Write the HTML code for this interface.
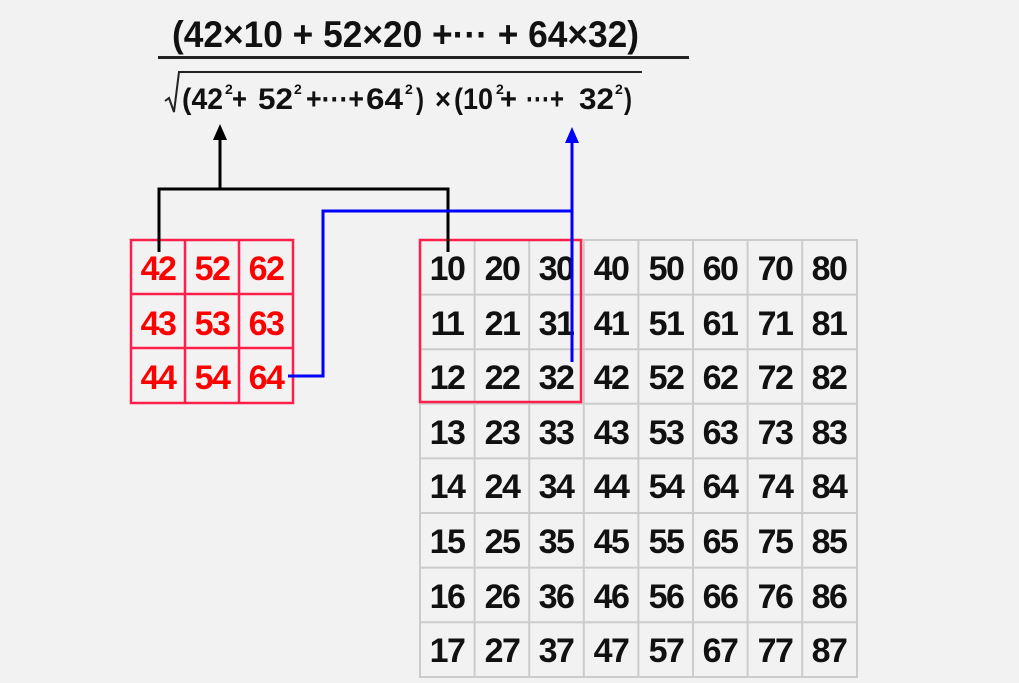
<!DOCTYPE html>
<html><head><style>
html,body{margin:0;padding:0;background:#f2f2f2;}
svg{display:block;}
text{font-family:"Liberation Sans",sans-serif;font-weight:bold;}
</style></head><body>
<svg width="1019" height="683" viewBox="0 0 1019 683" xmlns="http://www.w3.org/2000/svg">
<rect width="1019" height="683" fill="#f2f2f2"/>
<!-- formula -->
<text x="172" y="47" font-size="37" textLength="467" lengthAdjust="spacingAndGlyphs" fill="#111">(42×10 + 52×20 +··· + 64×32)</text>
<rect x="158" y="56" width="531" height="3" fill="#222"/>
<path d="M165 101 L169 98 L174 112 L179 72 L642 72" fill="none" stroke="#222" stroke-width="2"/>
<g font-size="30" fill="#111" font-weight="normal">
<text x="182" y="109" textLength="41" lengthAdjust="spacingAndGlyphs">(42</text>
<text x="232" y="109" textLength="15" lengthAdjust="spacingAndGlyphs">+</text>
<text x="258" y="109" textLength="35" lengthAdjust="spacingAndGlyphs">52</text>
<text x="306" y="109" textLength="58" lengthAdjust="spacingAndGlyphs">+···+</text>
<text x="366" y="109" textLength="37" lengthAdjust="spacingAndGlyphs">64</text>
<text x="416" y="109" textLength="8" lengthAdjust="spacingAndGlyphs">)</text>
<text x="435" y="109" textLength="16" lengthAdjust="spacingAndGlyphs">×</text>
<text x="454" y="109" textLength="39" lengthAdjust="spacingAndGlyphs">(10</text>
<text x="500" y="109" textLength="17" lengthAdjust="spacingAndGlyphs">+</text>
<text x="526" y="109" textLength="38" lengthAdjust="spacingAndGlyphs">···+</text>
<text x="579" y="109" textLength="35" lengthAdjust="spacingAndGlyphs">32</text>
<text x="624" y="109" textLength="8" lengthAdjust="spacingAndGlyphs">)</text>
</g>
<g font-size="14" fill="#111">
<text x="225" y="94">2</text><text x="294" y="94">2</text><text x="405" y="94">2</text><text x="496" y="94">2</text><text x="615" y="94">2</text>
</g>
<!-- big grid -->
<g stroke="#cccccc" stroke-width="2" fill="none">
<rect x="420" y="240" width="437" height="437"/>
<path d="M474.6 240V677M529.2 240V677M583.8 240V677M638.4 240V677M693 240V677M747.6 240V677M802.2 240V677
M420 294.6H857M420 349.2H857M420 403.8H857M420 458.4H857M420 513H857M420 567.6H857M420 622.2H857"/>
</g>
<g font-size="34" fill="#111" text-anchor="middle" letter-spacing="-1.5">
<text x="447" y="280">10</text><text x="502" y="280">20</text><text x="556" y="280">30</text><text x="611" y="280">40</text><text x="666" y="280">50</text><text x="720" y="280">60</text><text x="775" y="280">70</text><text x="829" y="280">80</text>
<text x="447" y="335">11</text><text x="502" y="335">21</text><text x="556" y="335">31</text><text x="611" y="335">41</text><text x="666" y="335">51</text><text x="720" y="335">61</text><text x="775" y="335">71</text><text x="829" y="335">81</text>
<text x="447" y="389">12</text><text x="502" y="389">22</text><text x="556" y="389">32</text><text x="611" y="389">42</text><text x="666" y="389">52</text><text x="720" y="389">62</text><text x="775" y="389">72</text><text x="829" y="389">82</text>
<text x="447" y="444">13</text><text x="502" y="444">23</text><text x="556" y="444">33</text><text x="611" y="444">43</text><text x="666" y="444">53</text><text x="720" y="444">63</text><text x="775" y="444">73</text><text x="829" y="444">83</text>
<text x="447" y="498">14</text><text x="502" y="498">24</text><text x="556" y="498">34</text><text x="611" y="498">44</text><text x="666" y="498">54</text><text x="720" y="498">64</text><text x="775" y="498">74</text><text x="829" y="498">84</text>
<text x="447" y="553">15</text><text x="502" y="553">25</text><text x="556" y="553">35</text><text x="611" y="553">45</text><text x="666" y="553">55</text><text x="720" y="553">65</text><text x="775" y="553">75</text><text x="829" y="553">85</text>
<text x="447" y="608">16</text><text x="502" y="608">26</text><text x="556" y="608">36</text><text x="611" y="608">46</text><text x="666" y="608">56</text><text x="720" y="608">66</text><text x="775" y="608">76</text><text x="829" y="608">86</text>
<text x="447" y="662">17</text><text x="502" y="662">27</text><text x="556" y="662">37</text><text x="611" y="662">47</text><text x="666" y="662">57</text><text x="720" y="662">67</text><text x="775" y="662">77</text><text x="829" y="662">87</text>
</g>
<rect x="420" y="240" width="161" height="162" fill="none" stroke="#ff1f4b" stroke-width="2.5"/>
<!-- small grid -->
<g stroke="#ff1f4b" stroke-width="2.5" fill="none">
<rect x="131" y="240" width="162" height="163"/>
<path d="M185 240V403M239 240V403M131 294H293M131 348H293"/>
</g>
<g font-size="34" fill="#ff0000" text-anchor="middle" letter-spacing="-1.5">
<text x="158" y="280">42</text><text x="212" y="280">52</text><text x="266" y="280">62</text>
<text x="158" y="335">43</text><text x="212" y="335">53</text><text x="266" y="335">63</text>
<text x="158" y="389">44</text><text x="212" y="389">54</text><text x="266" y="389">64</text>
</g>
<!-- connectors -->
<path d="M159 252V189H448V252M220 189V138" fill="none" stroke="#000" stroke-width="3"/>
<polygon points="220,124 213,140 227,140" fill="#000"/>
<path d="M288 376H323V211H572M572 362V140" fill="none" stroke="#0000ff" stroke-width="3"/>
<polygon points="572,127 565,143 579,143" fill="#0000ff"/>
</svg>
</body></html>
